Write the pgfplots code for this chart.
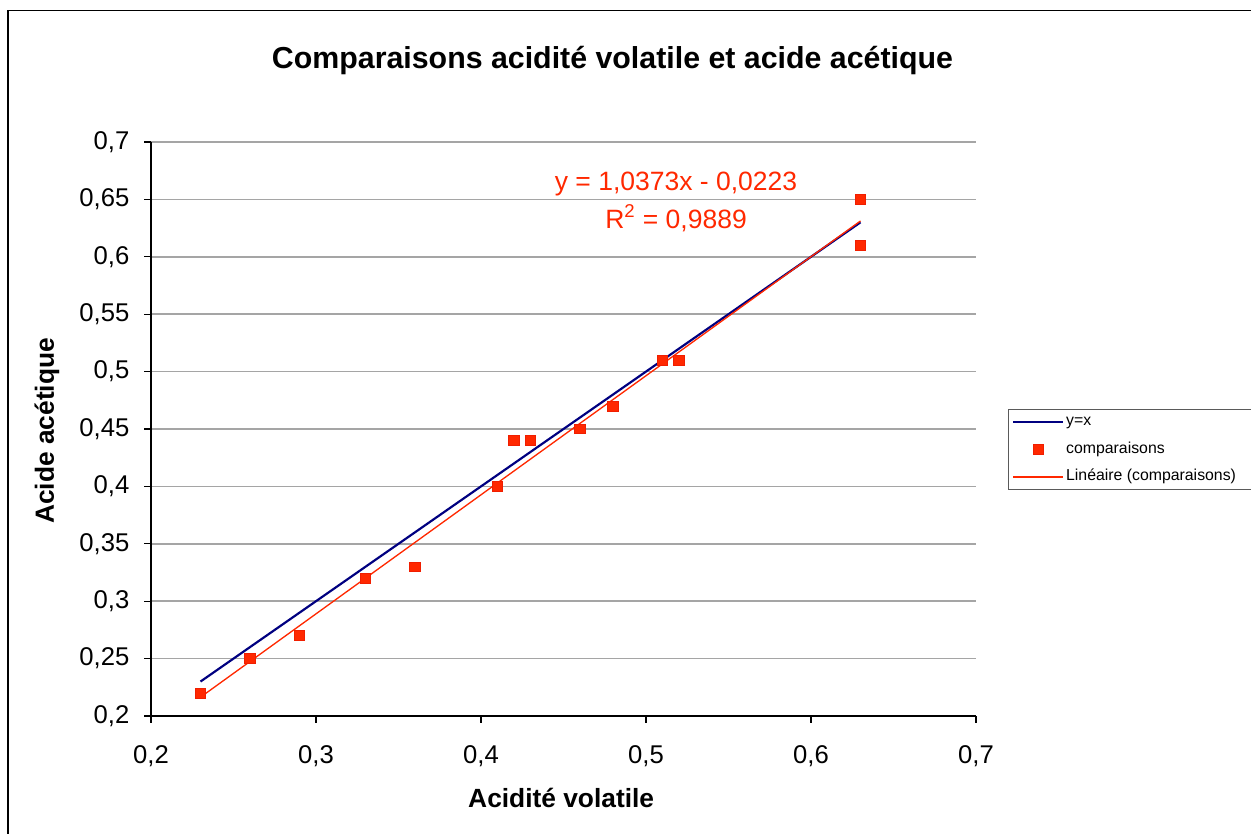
\documentclass[border=0pt]{standalone}
\usepackage{pgfplots}
\pgfplotsset{compat=1.18}
\usepackage{fontspec}
\setmainfont{Liberation Sans}
\definecolor{xlred}{RGB}{255,40,0}
\definecolor{xlmark}{RGB}{240,30,0}
\definecolor{xlblue}{RGB}{0,0,128}
\definecolor{xlgrid}{RGB}{165,165,165}
\begin{document}
\begin{tikzpicture}
\path[use as bounding box] (0pt,0pt) rectangle (750.6pt,500.4pt);
\draw[line width=0.9pt,black] (4.9pt,-8pt) rectangle (760pt,494.0pt);
\node[anchor=base,font=\fontsize{18.2}{20}\selectfont\bfseries] at (367.5pt,459.3pt) {Comparaisons acidité volatile et acide acétique};
\node[anchor=base,font=\fontsize{15.8}{18}\selectfont\bfseries] at (336.7pt,15.6pt) {Acidité volatile};
\node[anchor=base,rotate=90,font=\fontsize{15.8}{18}\selectfont\bfseries] at (32.3pt,241.8pt) {Acide acétique};
\begin{axis}[
  at={(90.6pt,70.8pt)}, anchor=south west,
  scale only axis, width=495pt, height=344.4pt,
  xmin=0.2, xmax=0.7, ymin=0.2, ymax=0.7,
  xtick={0.2,0.3,0.4,0.5,0.6,0.7},
  ytick={0.2,0.25,0.3,0.35,0.4,0.45,0.5,0.55,0.6,0.65,0.7},
  axis lines=left,
  axis line style={-, line width=0.8pt, black},
  tick align=outside,
  major tick length=4.2pt,
  tick style={line width=0.8pt, black},
  ymajorgrids,
  grid style={line width=0.9pt, xlgrid},
  /pgf/number format/assume math mode=true,
  /pgf/number format/use comma,
  /pgf/number format/fixed,
  ticklabel style={font=\fontsize{15.4}{17}\selectfont},
  yticklabel style={anchor=east, inner sep=0pt, xshift=-8.6pt},
  xticklabel style={anchor=north, inner sep=0pt, yshift=-13.2pt},
  clip=false,
  legend style={
    at={(1.0388,0.5348)}, anchor=north west,
    draw={rgb,255:red,90;green,90;blue,90}, line width=0.8pt,
    font=\fontsize{9.5}{11}\selectfont,
    inner sep=2.2pt,
    row sep=6.2pt,
    nodes={inner sep=1pt, text height=6.5pt, text depth=1.8pt},
    legend cell align=left,
  },
  legend image code/.code={\draw[mark repeat=2,mark phase=2,#1] plot coordinates {(0pt,0pt) (15pt,0pt) (30pt,0pt)};},
]
\addplot[xlblue, line width=1.3pt, mark=none] coordinates {
(0.23,0.23) (0.26,0.26) (0.29,0.29) (0.33,0.33) (0.36,0.36) (0.41,0.41) (0.42,0.42) (0.43,0.43) (0.46,0.46) (0.48,0.48) (0.51,0.51) (0.52,0.52) (0.63,0.63)
};
\addlegendentry{y=x}
\addplot[only marks, mark=square*, mark size=2.9pt, mark options={fill=xlred, draw=xlmark, line width=0.4pt, xscale=1.1}] coordinates {
(0.23,0.22) (0.26,0.25) (0.29,0.27) (0.33,0.32) (0.36,0.33) (0.41,0.40) (0.42,0.44) (0.43,0.44) (0.46,0.45) (0.48,0.47) (0.51,0.51) (0.52,0.51) (0.63,0.65) (0.63,0.61)
};
\addlegendentry{comparaisons}
\addplot[xlred, line width=0.8pt, mark=none] coordinates {
(0.23,0.216379) (0.63,0.631199)
};
\addlegendentry{Linéaire (comparaisons)\hspace*{12pt}}
\node[anchor=base, text=xlred, font=\fontsize{15.9}{18}\selectfont] at (axis cs:0.5182,0.6576) {y = 1,0373x - 0,0223};
\node[anchor=base, text=xlred, font=\fontsize{15.9}{18}\selectfont] at (axis cs:0.5182,0.6248) {R\textsuperscript{2} = 0,9889};
\end{axis}
\end{tikzpicture}
\end{document}
